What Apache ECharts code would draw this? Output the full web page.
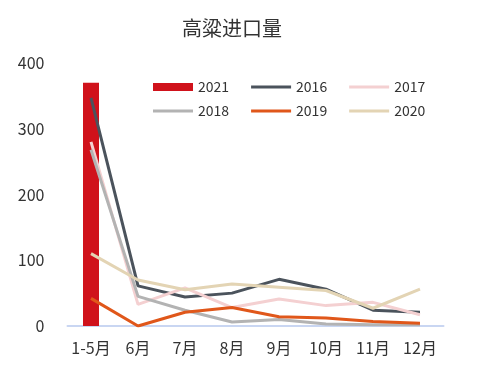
<!DOCTYPE html>
<html><head><meta charset="utf-8">
<script src="https://cdn.jsdelivr.net/npm/echarts@6/dist/echarts.min.js"></script>
<style>html,body{margin:0;padding:0;background:#fff}#c{width:482px;height:367px}</style>
</head><body><div id="c"></div>
<script>
var categories = ['1-5月','6月','7月','8月','9月','10月','11月','12月'];
var yTicks = [0,100,200,300,400];
var s2021 = [370, null, null, null, null, null, null, null];
var s2016 = [347, 61, 44, 50, 71, 56, 24, 21];
var s2017 = [280, 33, 58, 28, 41, 31, 36, 17];
var s2018 = [268, 45, 24, 6, 10, 3, 2, 2];
var s2019 = [42, 0, 21, 28, 14, 12, 7, 4];
var s2020 = [110, 70, 55, 64, 59, 54, 27, 56];

var font = '"Noto Sans CJK SC", "Noto Sans", sans-serif';
var chart = echarts.init(document.getElementById('c'));
function line(name, data, color, z) {
  return {name: name, type: 'line', data: data, symbol: 'none', z: z,
    lineStyle: {color: color, width: 3}, itemStyle: {color: color}};
}
var lineIcon = 'path://M0,0H40V3H0Z';
var legendCommon = {itemWidth: 40, itemHeight: 8, itemGap: 22, textStyle: {fontSize: 14, color: '#333', fontFamily: font}};
chart.setOption({
  animation: false,
  title: {text: '高粱进口量', left: 177, top: 13, textStyle: {fontSize: 20, fontWeight: 'normal', color: '#333', fontFamily: font}},
  legend: [
    Object.assign({left: 148, top: 75, data: [{name:'2021', icon:'rect'}, {name:'2016', icon: lineIcon}, {name:'2017', icon: lineIcon}]}, legendCommon),
    Object.assign({left: 148, top: 99, data: [{name:'2018', icon: lineIcon}, {name:'2019', icon: lineIcon}, {name:'2020', icon: lineIcon}]}, legendCommon)
  ],
  grid: {left: 67.5, right: 38.5, top: 63, bottom: 41},
  xAxis: {type: 'category', data: categories, boundaryGap: true,
    axisLine: {lineStyle: {color: '#c9d6f2', width: 2}}, axisTick: {show: false},
    axisLabel: {interval: 0, fontSize: 16, color: '#333', fontFamily: font, margin: 14}},
  yAxis: {type: 'value', min: yTicks[0], max: yTicks[yTicks.length-1], interval: 100,
    splitLine: {show: false}, axisLine: {show: false}, axisTick: {show: false},
    axisLabel: {fontSize: 16, color: '#333', fontFamily: font, margin: 23}},
  series: [
    {name: '2021', type: 'bar', data: s2021, barWidth: 16, itemStyle: {color: '#d0121b'}, z: 1},
    line('2016', s2016, '#4b535c', 3),
    line('2017', s2017, '#f4d0d1', 3),
    line('2018', s2018, '#b3b3b3', 3),
    line('2019', s2019, '#e0571a', 4),
    line('2020', s2020, '#e3d4b4', 3)
  ]
});
</script></body></html>
